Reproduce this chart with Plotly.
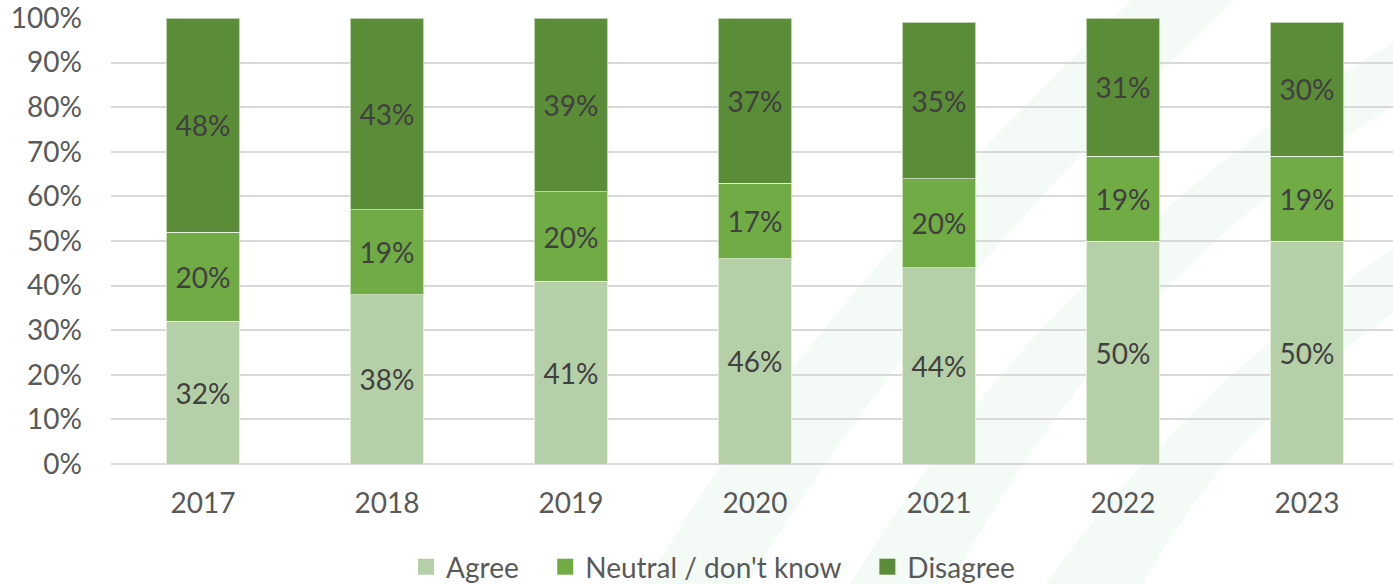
import plotly.graph_objects as go

years = ["2017", "2018", "2019", "2020", "2021", "2022", "2023"]
agree = [32, 38, 41, 46, 44, 50, 50]
neutral = [20, 19, 20, 17, 20, 19, 19]
disagree = [48, 43, 39, 37, 35, 31, 30]
y_ticks = [0, 10, 20, 30, 40, 50, 60, 70, 80, 90, 100]

series = [
    ("Agree", agree, "#B5CFA8"),
    ("Neutral / don't know", neutral, "#70AB46"),
    ("Disagree", disagree, "#5B8C37"),
]

FONT = "Lato"
NB = "\u00a0"
fig = go.Figure()
for name, vals, color in series:
    fig.add_trace(go.Bar(
        x=years, y=vals, name=name, showlegend=False,
        marker=dict(color=color, line=dict(color="rgba(255,255,255,0.6)", width=1)),
        width=0.4,
        text=[f"{v}%" for v in vals],
        textposition="inside", insidetextanchor="middle",
        textfont=dict(family=FONT, size=28, color="#404040"),
        textangle=0,
        cliponaxis=False,
        hoverinfo="skip",
    ))
# legend entries (square markers)
for i, (name, vals, color) in enumerate(series):
    label = name + (NB * 3 if i < len(series) - 1 else "")
    fig.add_trace(go.Scatter(
        x=[None], y=[None], mode="markers", name=label,
        marker=dict(symbol="square", size=16, color=color),
        showlegend=True,
    ))

# faint decorative background bands
shapes = []
bands = [
    "M 0.40 -0.35 C 0.50 0.15, 0.62 0.55, 0.80 1.05 L 0.88 1.05 C 0.70 0.55, 0.58 0.15, 0.48 -0.35 Z",
    "M 0.56 -0.35 C 0.66 0.15, 0.80 0.6, 1.02 0.98 L 1.02 0.84 C 0.84 0.52, 0.73 0.15, 0.64 -0.35 Z",
    "M 0.71 -0.35 C 0.79 0.0, 0.90 0.3, 1.02 0.52 L 1.02 0.38 C 0.93 0.2, 0.85 0.0, 0.79 -0.35 Z",
]
for p in bands:
    shapes.append(dict(type="path", path=p, xref="paper", yref="paper",
                       fillcolor="rgba(205,230,214,0.22)", line=dict(width=0), layer="below"))

fig.update_layout(
    barmode="stack",
    width=1393, height=584,
    margin=dict(l=111, r=0, t=18, b=120, autoexpand=False),
    paper_bgcolor="white", plot_bgcolor="rgba(0,0,0,0)",
    font=dict(family=FONT, color="#595959", size=28),
    shapes=shapes,
    uniformtext=dict(minsize=10, mode="show"),
    legend=dict(orientation="h", x=0.4696, xanchor="center",
                yref="container", y=(584 - 567) / 584, yanchor="middle",
                font=dict(family=FONT, size=28, color="#595959"),
                itemwidth=30, itemsizing="trace", traceorder="normal",
                bgcolor="rgba(0,0,0,0)"),
    xaxis=dict(type="category", range=[-0.5, 6.467], showgrid=False, automargin=False,
               showline=False, ticks="", tickfont=dict(size=28, color="#595959"),
               ticklabelstandoff=20),
    yaxis=dict(range=[0, 100], tickvals=y_ticks, ticktext=[f"{t}%" for t in y_ticks],
               automargin=False, ticklabeloverflow="allow",
               showgrid=True, gridcolor="#D9D9D9", gridwidth=1.5,
               zeroline=True, zerolinecolor="#D9D9D9", zerolinewidth=1.5,
               showline=False, ticks="", tickfont=dict(size=28, color="#595959"),
               ticklabelstandoff=28),
    showlegend=True,
)

fig.write_html("out.html", config={"displayModeBar": False},
               post_script="document.body.style.margin='0';document.body.style.overflow='hidden';")
